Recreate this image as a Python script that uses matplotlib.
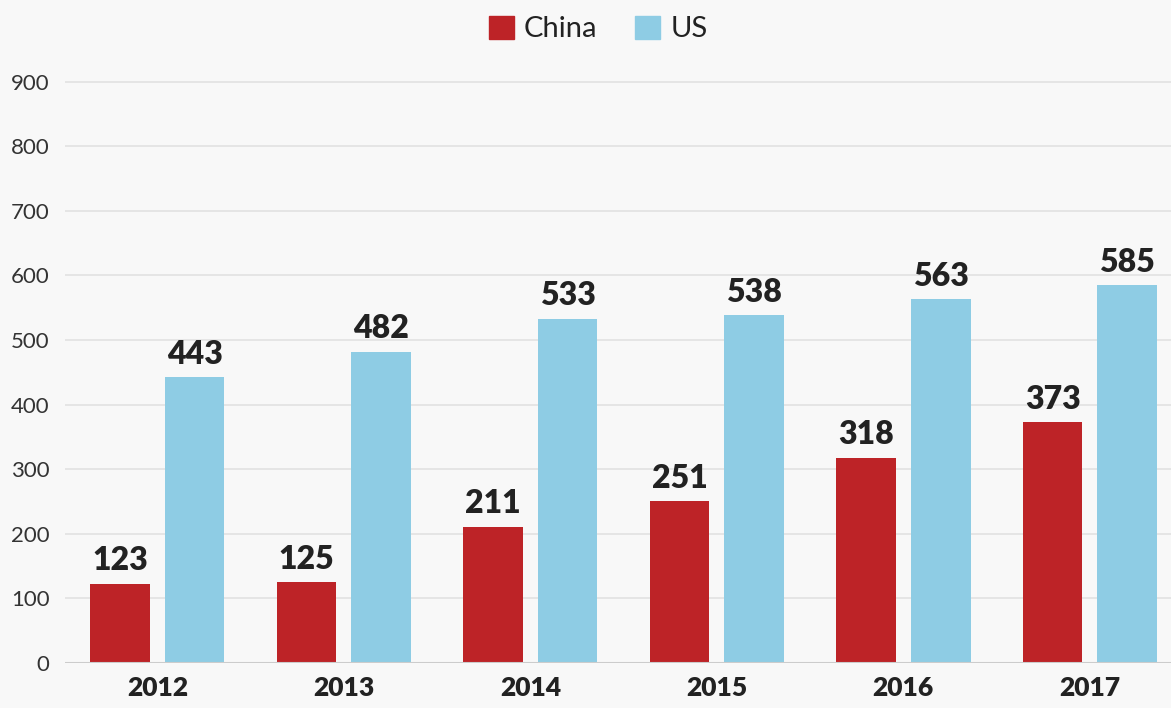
import numpy as np
import matplotlib.pyplot as plt
from matplotlib.patches import Patch

years = ["2012", "2013", "2014", "2015", "2016", "2017"]
china = [123, 125, 211, 251, 318, 373]
us = [443, 482, 533, 538, 563, 585]

plt.rcParams["font.family"] = ["Lato", "DejaVu Sans"]

bg = "#f8f8f8"
red = "#bd2327"
blue = "#8ecce4"

fig = plt.figure(figsize=(11.71, 7.08), dpi=100, facecolor=bg)
ax = fig.add_axes([65 / 1171, 45 / 708, 1106 / 1171, 593 / 708], facecolor=bg)

x = np.arange(len(years))
w = 0.32
off = 0.2
b1 = ax.bar(x - off, china, w, color=red, zorder=3)
b2 = ax.bar(x + off, us, w, color=blue, zorder=3)

for bars in (b1, b2):
    for b in bars:
        ax.annotate(f"{int(b.get_height())}", (b.get_x() + b.get_width() / 2, b.get_height()),
                    xytext=(0, 6), textcoords="offset points", ha="center", va="bottom",
                    fontsize=23, fontweight="heavy", color="#222222")

ax.set_xlim(-0.495, 5.435)
ax.set_ylim(0, 918)
ax.set_yticks(range(0, 901, 100))
ax.set_xticks(x)
ax.set_xticklabels(years, fontsize=19, fontweight="heavy", color="#222222")
ax.tick_params(axis="y", labelsize=16, colors="#333333", length=0, pad=11)
ax.tick_params(axis="x", length=0, pad=9)
ax.yaxis.grid(True, color="#e2e2e2", linewidth=1.2, zorder=0)
ax.axhline(0, color="#cccccc", linewidth=1.5, zorder=4)
for s in ax.spines.values():
    s.set_visible(False)

handles = [Patch(color=red, label="China"), Patch(color=blue, label="US")]
fig.legend(handles=handles, loc="center", bbox_to_anchor=(0.511, 1 - 29 / 708), ncol=2,
           frameon=False, fontsize=21, handlelength=0.85, handleheight=0.85,
           handletextpad=0.35, columnspacing=1.3, labelcolor="#222222")

fig.savefig("out.png", dpi=100, facecolor=bg)
